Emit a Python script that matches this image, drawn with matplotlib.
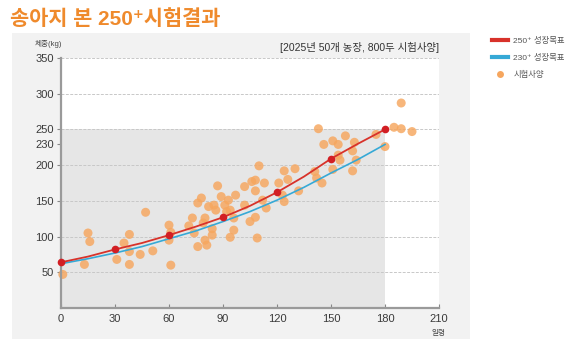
import matplotlib
matplotlib.use("Agg")
import matplotlib.pyplot as plt
import matplotlib.patches as patches
from matplotlib.lines import Line2D

plt.rcParams["font.family"] = ["Liberation Sans", "Noto Sans CJK KR", "DejaVu Sans"]

# growth targets (kg by age in days)
target_days = [0, 15, 30, 45, 60, 75, 90, 105, 120, 135, 150, 165, 180]
target_250 = [64, 72, 82, 91, 102, 114, 127, 143, 162, 184, 209, 230, 250]
target_230 = [62, 69, 77, 86, 97, 108, 121, 135, 151, 169, 189, 208, 229]
marker_days = [0, 30, 60, 90, 120, 150, 180]
marker_250 = [64, 82, 102, 127, 162, 209, 250]

# field trial points (age, weight)
trial_days = [1, 13, 15, 16, 31, 35, 38, 38, 38, 44, 47, 51, 60, 60, 61, 61,
              71, 73, 74, 76, 76, 78, 79, 80, 80, 81, 82, 84, 84, 85, 86, 87,
              89, 91, 92, 93, 94, 94, 96, 97, 96, 102, 102, 105, 106, 108, 108,
              108, 109, 110, 112, 113, 114, 121, 123, 124, 124, 126, 130, 132,
              141, 142, 143, 145, 146, 151, 151, 154, 154, 155, 158, 162, 162,
              163, 164, 175, 180, 185, 189, 189, 195]
trial_kg = [47, 61, 105, 93, 68, 91, 103, 79, 61, 75, 134, 80, 116, 95, 106, 60,
            115, 126, 105, 86, 147, 154, 119, 126, 95, 88, 142, 111, 102, 144, 137, 171,
            156, 144, 135, 151, 137, 99, 109, 158, 126, 170, 144, 121, 177, 179, 164,
            127, 98, 199, 151, 175, 140, 175, 158, 149, 192, 180, 195, 164,
            191, 182, 251, 175, 229, 234, 194, 229, 214, 207, 241, 220, 192,
            232, 207, 243, 226, 253, 251, 287, 247]

y_ticks = [50, 100, 150, 200, 230, 250, 300, 350]
x_ticks = [0, 30, 60, 90, 120, 150, 180, 210]

W, H = 586, 346
fig = plt.figure(figsize=(W / 100, H / 100), dpi=100)
fig.patch.set_facecolor("white")

# grey panel behind the chart
panel = patches.Rectangle((12 / W, 1 - 339 / H), 458 / W, 306 / H,
                          transform=fig.transFigure, facecolor="#f2f2f2",
                          edgecolor="none", zorder=-5)
fig.patches.append(panel)

fig.text(10 / W, 1 - 25 / H, "송아지 본 250⁺시험결과", fontsize=15,
         fontweight="bold", color="#ef8a2c", ha="left", va="baseline")

ax = fig.add_axes([61 / W, 1 - 308 / H, 378 / W, 250 / H])
ax.set_zorder(1)
ax.set_facecolor("white")
ax.set_xlim(0, 210)
ax.set_ylim(0, 350)

ax.add_patch(patches.Rectangle((0, 0), 180, 250, facecolor="#e6e6e6",
                               edgecolor="none", zorder=0))
for g in [50, 100, 150, 200, 250, 300, 350]:
    ax.axhline(g, color="#c8c8c8", lw=0.7, ls=(0, (3, 1.5)), zorder=1)

ax.scatter(trial_days, trial_kg, s=42, color="#f6a65e", alpha=0.82,
           edgecolors="none", zorder=2, clip_on=False)
ax.plot(target_days, target_230, color="#36a9d6", lw=1.2, zorder=3)
ax.plot(target_days, target_250, color="#d8322a", lw=1.3, zorder=4)
ax.plot(marker_days, marker_250, "o", color="#d21f24", markersize=5.5,
        markeredgewidth=0, zorder=5, clip_on=False)

for s in ["top", "right"]:
    ax.spines[s].set_visible(False)
for s in ["left", "bottom"]:
    ax.spines[s].set_color("#9a9a9a")
    ax.spines[s].set_linewidth(1.6)

ax.set_yticks(y_ticks)
ax.set_xticks(x_ticks)
ax.tick_params(axis="y", direction="out", length=3, width=0.8, color="#888",
               labelsize=8, labelcolor="#3a3a3a", pad=2)
ax.tick_params(axis="x", direction="in", length=3, width=0.8, color="#888",
               labelsize=8, labelcolor="#3a3a3a", pad=4)

fig.text(35 / W, 1 - 46 / H, "체중(kg)", fontsize=5.5, color="#444",
         ha="left", va="baseline")
fig.text(439 / W, 1 - 335 / H, "일령", fontsize=5.5, color="#444",
         ha="center", va="baseline")
fig.text(439 / W, 1 - 51 / H, "[2025년 50개 농장, 800두 시험사양]", fontsize=7.5,
         color="#333", ha="right", va="baseline")

handles = [
    Line2D([], [], color="#d8322a", lw=3),
    Line2D([], [], color="#36a9d6", lw=3),
    Line2D([], [], marker="o", ls="none", color="#f6a65e", markersize=5,
           markeredgewidth=0),
]
labels = ["250⁺ 성장목표", "230⁺ 성장목표", "시험사양"]
fig.legend(handles, labels, loc="upper left",
           bbox_to_anchor=(484 / W, 1 - 29 / H), frameon=False, fontsize=6,
           handlelength=2.0, labelspacing=1.1, handletextpad=0.6,
           labelcolor="#555")

fig.savefig("out.png", dpi=100)
